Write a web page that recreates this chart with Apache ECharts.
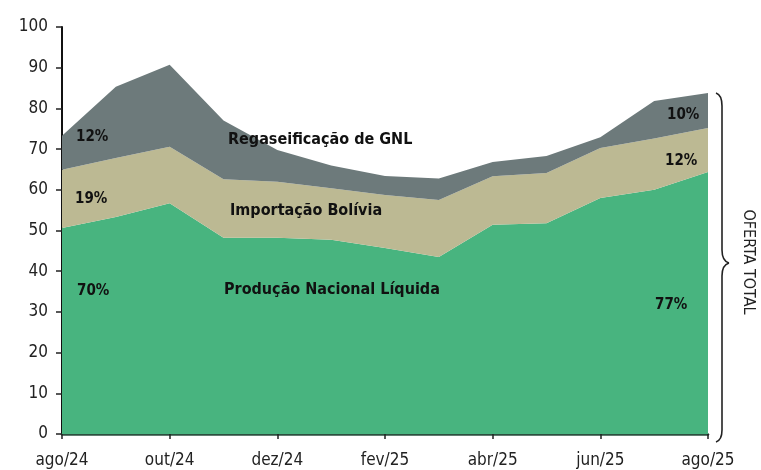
<!DOCTYPE html>
<html>
<head>
<meta charset="utf-8">
<script src="https://cdn.jsdelivr.net/npm/echarts@6/dist/echarts.min.js"></script>
<style>
  html, body { margin: 0; padding: 0; background: #fff; }
  #chart { width: 761px; height: 470px; }
</style>
</head>
<body>
<div id="chart"></div>
<script>
// meses (ago/24 .. ago/25)
const months = ['ago/24', 'set/24', 'out/24', 'nov/24', 'dez/24', 'jan/25', 'fev/25',
  'mar/25', 'abr/25', 'mai/25', 'jun/25', 'jul/25', 'ago/25']
const producao = [50.6, 53.3, 56.7, 48.2, 48.2, 47.7, 45.7, 43.5, 51.4, 51.8, 58.0, 60.0, 64.4]
const bolivia = [14.3, 14.5, 13.9, 14.4, 13.8, 12.7, 13.0, 14.0, 11.9, 12.3, 12.3, 12.6, 10.8]
const gnl = [8.4, 17.5, 20.1, 14.4, 7.8, 5.6, 4.7, 5.3, 3.5, 4.2, 2.6, 9.2, 8.6]
const yTicks = [0, 10, 20, 30, 40, 50, 60, 70, 80, 90, 100]

const FONT = '"Liberation Sans Narrow", "DejaVu Sans Condensed", "Roboto", sans-serif'
const colors = { prod: '#48b47f', bol: '#bcb993', gnl: '#6d7a7b' }

function areaSeries(name, data, color) {
  return {
    name: name,
    type: 'line',
    stack: 'oferta',
    data: data,
    symbol: 'none',
    lineStyle: { width: 0 },
    areaStyle: { color: color, opacity: 1 },
    itemStyle: { color: color },
    animation: false
  }
}

function txt(x, y, text, size) {
  return {
    type: 'text',
    left: x,
    top: y,
    z: 100,
    style: {
      text: text,
      font: 'bold ' + size + 'px ' + FONT,
      fill: '#111'
    }
  }
}

// chave "}" da oferta total
const braceStyle = { fill: null, stroke: '#222', lineWidth: 1.6 }
function curve(x1, y1, cx, cy, x2, y2) {
  return { type: 'bezierCurve', z: 100, shape: { x1: x1, y1: y1, cpx1: cx, cpy1: cy, x2: x2, y2: y2 }, style: braceStyle }
}
function seg(x1, y1, x2, y2) {
  return { type: 'line', z: 100, shape: { x1: x1, y1: y1, x2: x2, y2: y2 }, style: braceStyle }
}

const chart = echarts.init(document.getElementById('chart'))
chart.setOption({
  backgroundColor: '#fff',
  grid: { left: 62, right: 53, top: 27, bottom: 36 },
  xAxis: {
    type: 'category',
    data: months,
    boundaryGap: false,
    axisLine: { lineStyle: { color: '#2c4f3f', width: 2.5 } },
    axisTick: { interval: 1, length: 5, lineStyle: { color: '#222', width: 1.5 } },
    axisLabel: {
      interval: 1,
      color: '#222',
      fontSize: 17,
      fontFamily: FONT,
      margin: 18
    }
  },
  yAxis: {
    type: 'value',
    min: yTicks[0],
    max: yTicks[yTicks.length - 1],
    interval: 10,
    splitLine: { show: false },
    axisLine: { show: true, lineStyle: { color: '#111', width: 2 } },
    axisTick: { show: true, length: 6, lineStyle: { color: '#222', width: 1.5 } },
    axisLabel: {
      color: '#222',
      fontSize: 17,
      fontFamily: FONT,
      margin: 14
    }
  },
  series: [
    areaSeries('Produção Nacional Líquida', producao, colors.prod),
    areaSeries('Importação Bolívia', bolivia, colors.bol),
    areaSeries('Regaseificação de GNL', gnl, colors.gnl)
  ],
  graphic: [
    txt(228, 132, 'Regaseificação de GNL', 16),
    txt(230, 203, 'Importação Bolívia', 16),
    txt(224, 282, 'Produção Nacional Líquida', 16),
    txt(76, 130, '12%', 15),
    txt(75, 192, '19%', 15),
    txt(77, 284, '70%', 15),
    txt(667, 108, '10%', 15),
    txt(665, 154, '12%', 15),
    txt(655, 298, '77%', 15),
    curve(716, 93, 722, 95, 722, 106),
    seg(722, 106, 722, 250),
    curve(722, 250, 722, 261, 729, 263),
    curve(729, 263, 722, 265, 722, 276),
    seg(722, 276, 722, 430),
    curve(722, 430, 722, 440, 716, 442),
    {
      type: 'text',
      x: 748,
      y: 262,
      rotation: -Math.PI / 2,
      z: 100,
      style: {
        text: 'OFERTA TOTAL',
        font: '16px ' + FONT,
        fill: '#222',
        align: 'center',
        verticalAlign: 'middle'
      }
    }
  ]
})
</script>
</body>
</html>
